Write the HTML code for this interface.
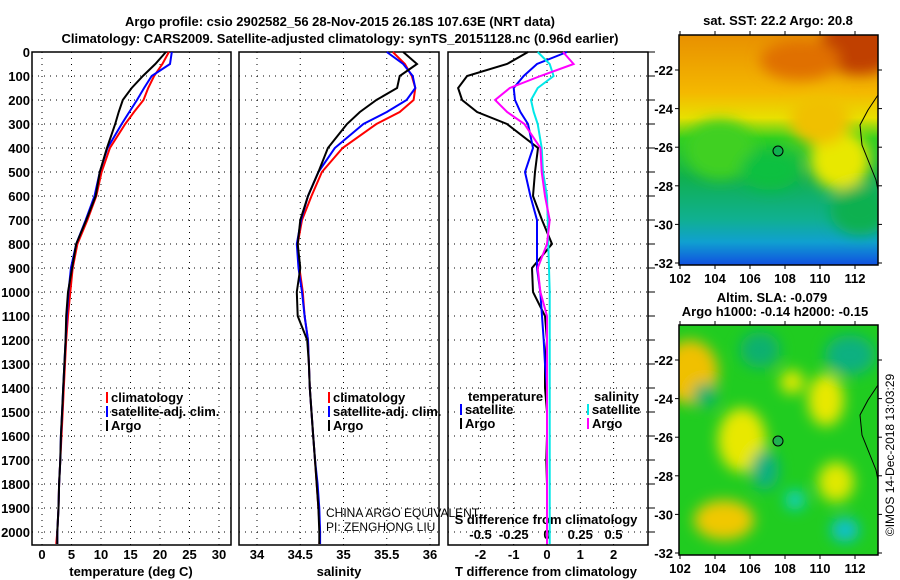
<!DOCTYPE html>
<html><head><meta charset="utf-8"><style>
body{margin:0;background:#fff;}
svg{display:block;font-family:"Liberation Sans",sans-serif;}
.b{font-weight:bold;font-size:13px;}
</style></head><body>
<svg id="c" width="900" height="580" viewBox="0 0 900 580">
<defs>
<linearGradient id="sst" x1="0" y1="0" x2="0" y2="1">
<stop offset="0" stop-color="#e89000"/><stop offset="0.25" stop-color="#f4b800"/><stop offset="0.36" stop-color="#e8e000"/>
<stop offset="0.45" stop-color="#30d020"/><stop offset="0.62" stop-color="#10b050"/><stop offset="0.8" stop-color="#10b090"/>
<stop offset="0.9" stop-color="#10a0d0"/><stop offset="1" stop-color="#1050e0"/></linearGradient>
<filter id="bl"><feGaussianBlur stdDeviation="7"/></filter>
<clipPath id="m1"><rect x="679" y="35" width="199" height="230"/></clipPath>
<clipPath id="m2"><rect x="679" y="325" width="199" height="230"/></clipPath>
</defs>
<text class="b" x="340" y="26" text-anchor="middle" font-size="14">Argo profile: csio 2902582_56 28-Nov-2015 26.18S 107.63E (NRT data)</text>
<text class="b" x="340" y="43" text-anchor="middle" font-size="14">Climatology: CARS2009. Satellite-adjusted climatology: synTS_20151128.nc (0.96d earlier)</text>
<g id="plots"></g>
<!-- maps -->
<g>
<text class="b" x="778" y="25" text-anchor="middle">sat. SST: 22.2 Argo: 20.8</text>
<g clip-path="url(#m1)">
<rect x="679" y="35" width="199" height="230" fill="url(#sst)"/>
<g filter="url(#bl)">
<ellipse cx="860" cy="45" rx="40" ry="30" fill="#c04000"/>
<ellipse cx="800" cy="60" rx="40" ry="20" fill="#e07000"/>
<ellipse cx="840" cy="160" rx="30" ry="30" fill="#e8e800"/>
<ellipse cx="820" cy="120" rx="30" ry="25" fill="#f0c000"/>
<ellipse cx="720" cy="150" rx="35" ry="30" fill="#40d020"/>
<ellipse cx="770" cy="170" rx="30" ry="20" fill="#10c040"/>
<ellipse cx="860" cy="210" rx="30" ry="25" fill="#10b050"/>
</g></g>
<path d="M878,95 L868,110 L860,125 L862,145 L870,165 L876,180 L878,190" fill="none" stroke="#000" stroke-width="1"/>
<circle cx="778" cy="151" r="5" fill="#10b050" stroke="#000"/>
<rect x="679" y="35" width="199" height="230" fill="none" stroke="#000" stroke-width="1.5"/>
</g>
<g>
<text class="b" x="772" y="302" text-anchor="middle">Altim. SLA: -0.079</text>
<text class="b" x="775" y="316" text-anchor="middle">Argo h1000: -0.14 h2000: -0.15</text>
<g clip-path="url(#m2)">
<rect x="679" y="325" width="199" height="230" fill="#20cc20"/>
<g filter="url(#bl)">
<ellipse cx="690" cy="372" rx="28" ry="32" fill="#f0c000"/>
<ellipse cx="742" cy="440" rx="24" ry="32" fill="#e8e800"/>
<ellipse cx="724" cy="520" rx="30" ry="20" fill="#f0c800"/>
<ellipse cx="826" cy="400" rx="18" ry="26" fill="#e8e800"/>
<ellipse cx="836" cy="482" rx="18" ry="20" fill="#e0e800"/>
<ellipse cx="792" cy="382" rx="12" ry="12" fill="#e0e800"/>
<ellipse cx="850" cy="355" rx="25" ry="20" fill="#10b080"/>
<ellipse cx="760" cy="350" rx="20" ry="18" fill="#10b070"/>
<ellipse cx="765" cy="470" rx="14" ry="20" fill="#10b080"/>
<ellipse cx="795" cy="500" rx="10" ry="10" fill="#10d0c0"/>
<ellipse cx="845" cy="530" rx="14" ry="12" fill="#10c0d0"/>
<ellipse cx="705" cy="395" rx="12" ry="12" fill="#10b070"/>
</g></g>
<path d="M878,385 L868,400 L860,415 L862,435 L870,455 L876,470 L878,480" fill="none" stroke="#000" stroke-width="1"/>
<circle cx="778" cy="441" r="5" fill="#20b050" stroke="#000"/>
<rect x="679" y="325" width="199" height="230" fill="none" stroke="#000" stroke-width="1.5"/>
</g>
<g id="maxes"></g>
<text font-size="12" transform="translate(894,455) rotate(-90)" text-anchor="middle">©IMOS 14-Dec-2018 13:03:29</text>
</svg>
<script>
const depths=[0,50,100,150,200,250,300,400,500,600,700,800,900,1000,1100,1200,1300,1400,1500,1600,1700,1800,1900,2000,2050];
const tempArgo=[21.0,19.2,17.1,15.2,13.7,13.0,12.4,11.0,9.8,9.1,7.5,5.8,5.1,4.4,4.1,4.0,3.8,3.6,3.4,3.2,3.1,2.9,2.8,2.6,2.6];
const tempClim=[21.5,20.4,19.0,18.0,17.2,15.6,14.1,11.5,10.1,9.2,7.7,6.0,5.2,4.8,4.4,4.1,3.9,3.7,3.5,3.3,3.1,2.9,2.8,2.6,2.4];
const tempSat=[22.0,21.7,18.6,17.3,16.1,14.8,13.5,11.1,9.8,8.9,7.4,5.8,4.9,4.5,4.2,4.0,3.8,3.6,3.4,3.2,3.1,2.9,2.8,2.6,2.6];
const salArgo=[35.69,35.85,35.65,35.62,35.38,35.19,35.04,34.82,34.71,34.59,34.50,34.47,34.50,34.46,34.47,34.58,34.60,34.61,34.63,34.65,34.67,34.69,34.71,34.72,34.72];
const salClim=[35.57,35.71,35.79,35.83,35.81,35.65,35.38,34.99,34.75,34.63,34.52,34.47,34.49,34.53,34.55,34.59,34.60,34.61,34.63,34.65,34.67,34.69,34.71,34.73,34.72];
const salSat=[35.50,35.69,35.80,35.83,35.73,35.50,35.23,34.90,34.71,34.59,34.51,34.46,34.48,34.52,34.55,34.59,34.60,34.61,34.63,34.65,34.67,34.70,34.72,34.73,34.73];
const dTArgo=[-0.57,-1.2,-2.4,-2.67,-2.55,-2.1,-1.2,-0.27,-0.36,-0.42,-0.15,0.15,-0.45,-0.42,-0.06,0,-0.06,-0.06,0,0,-0.02,0,0,0,0];
const dTSat=[0.6,-0.3,-0.7,-1.0,-0.96,-0.8,-0.57,-0.42,-0.66,-0.5,-0.3,-0.3,-0.3,-0.2,-0.15,-0.1,-0.06,0,0,0,0,0,0,0,0];
const dSArgo=[0.12,0.2,-0.05,-0.28,-0.39,-0.3,-0.17,-0.05,-0.04,-0.015,0.02,0,-0.07,-0.05,0,0,0,0,0,0,0,0,0,0,0];
const dSSat=[-0.07,0.02,0.05,-0.07,-0.12,-0.1,-0.07,-0.04,-0.03,0,0.005,0.01,0.015,0.02,0.02,0.02,0.02,0.02,0.02,0.02,0.02,0.02,0.02,0.02,0.02];
const depthTicks=[0,100,200,300,400,500,600,700,800,900,1000,1100,1200,1300,1400,1500,1600,1700,1800,1900,2000];
const tempTicks=[0,5,10,15,20,25,30];
const salTicks=[34,34.5,35,35.5,36];
const salTickLabels=["34","34.5","35","35.5","36"];
const dTTicks=[-2,-1,0,1,2];
const dSTicks=[-0.5,-0.25,0,0.25,0.5];
const dSTickLabels=["-0.5","-0.25","0","0.25","0.5"];
const lonTicks=[102,104,106,108,110,112];
const latTicks=[-22,-24,-26,-28,-30,-32];

const NS='http://www.w3.org/2000/svg';
const G=document.getElementById('plots');
const top0=52, bot=545;
const yD=d=>top0+d*0.24;
function mk(tag,at,parent){const e=document.createElementNS(NS,tag);for(const k in at)e.setAttribute(k,at[k]);(parent||G).appendChild(e);return e;}
function txt(s,x,y,anchor,cls,parent){const t=mk('text',{x:x,y:y,'text-anchor':anchor||'middle'},parent);if(cls)t.setAttribute('class',cls);t.textContent=s;return t;}
const panels=[
 {x0:32,x1:231,sx:v=>42+v*5.9,name:'temperature-panel'},
 {x0:239,x1:439,sx:v=>257+(v-34)*86.5,name:'salinity-panel'},
 {x0:448,x1:648,sx:v=>547+v*33.3,name:'difference-panel'}];
const sxS=v=>547+v*133;
panels.forEach((p,pi)=>{
 const g=mk('g',{});
 
 
 const ticks=pi==0?tempTicks:pi==1?salTicks:dTTicks;
 depthTicks.forEach(d=>{const l=mk('line',{x1:p.x0,x2:p.x1,y1:yD(d),y2:yD(d),stroke:'#000','stroke-width':1,'stroke-dasharray':'1,5'},g);
  
  mk('line',{x1:p.x1,x2:p.x1+(pi==2?7:0),y1:yD(d),y2:yD(d),stroke:'#000'},g);});
 ticks.forEach(v=>{const l=mk('line',{x1:p.sx(v),x2:p.sx(v),y1:top0,y2:bot,stroke:'#000','stroke-width':1,'stroke-dasharray':'1,5'},g);
  });
 ticks.forEach((v,i)=>{const t=txt(pi==1?salTickLabels[i]:String(v),p.sx(v),559,'middle','b',g);
  });
 const r=mk('rect',{x:p.x0,y:top0,width:p.x1-p.x0,height:bot-top0,fill:'none',stroke:'#000','stroke-width':1.5},g);
});
depthTicks.forEach(d=>{const t=txt(String(d),30,yD(d)+5,'end','b');
 });
let t;
t=txt('temperature (deg C)',131,576,'middle','b');
t=txt('salinity',339,576,'middle','b');
t=txt('T difference from climatology',546,576,'middle','b');
t=txt('S difference from climatology',546,524,'middle','b');
dSTicks.forEach((v,i)=>{const t=txt(dSTickLabels[i],sxS(v),539,'middle','b');});
function series(vals,sx,color,name,w){
 const pts=vals.map((v,i)=>sx(v).toFixed(1)+','+yD(depths[i]).toFixed(1)).join(' ');
 const pl=mk('polyline',{points:pts,fill:'none',stroke:color,'stroke-width':w||2});
 
 
}
series(tempClim,panels[0].sx,'#f00','temp-climatology-line');
series(tempSat,panels[0].sx,'#00f','temp-satellite-line');
series(tempArgo,panels[0].sx,'#000','temp-argo-line');
series(salClim,panels[1].sx,'#f00','sal-climatology-line');
series(salSat,panels[1].sx,'#00f','sal-satellite-line');
series(salArgo,panels[1].sx,'#000','sal-argo-line');
series(dTArgo,panels[2].sx,'#000','t-diff-argo-line');
series(dTSat,panels[2].sx,'#00f','t-diff-satellite-line');
series(dSSat,sxS,'#00e8e8','s-diff-satellite-line');
series(dSArgo,sxS,'#f0f','s-diff-argo-line');
function leg(x,y,color,label,name){
 const g=mk('g',{});
 
 
 mk('rect',{x:x,y:y-10,width:2,height:11,fill:color},g);
 txt(label,x+5,y,'start','b',g);
}
leg(106,402,'#f00','climatology','legend-climatology');
leg(106,416,'#00f','satellite-adj. clim.','legend-satellite-adj');
leg(106,430,'#000','Argo','legend-argo');
leg(328,402,'#f00','climatology','legend-climatology-sal');
leg(328,416,'#00f','satellite-adj. clim.','legend-satellite-adj-sal');
leg(328,430,'#000','Argo','legend-argo-sal');
t=txt('temperature',468,401,'start','b');
t=txt('salinity',594,401,'start','b');
leg(460,414,'#00f','satellite','legend-t-satellite');
leg(460,428,'#000','Argo','legend-t-argo');
leg(587,414,'#00e8e8','satellite','legend-s-satellite');
leg(587,428,'#f0f','Argo','legend-s-argo');
t=txt('CHINA ARGO EQUIVALENT',326,517,'start');t.setAttribute('font-size','12');
t=txt('PI: ZENGHONG LIU',326,531,'start');t.setAttribute('font-size','12');
// map axes
const MA=document.getElementById('maxes');
const lx=v=>680+(v-102)*17.5, ly=v=>70+(-22-v)*19.3;
[0,290].forEach((off,mi)=>{
 lonTicks.forEach(v=>{mk('line',{x1:lx(v),x2:lx(v),y1:off+265,y2:off+269,stroke:'#000'},MA);mk('line',{x1:lx(v),x2:lx(v),y1:off+31,y2:off+35,stroke:'#000'},MA);
  const t=txt(String(v),lx(v),off+283,'middle','b',MA);});
 latTicks.forEach(v=>{mk('line',{x1:675,x2:679,y1:off+ly(v),y2:off+ly(v),stroke:'#000'},MA);mk('line',{x1:878,x2:882,y1:off+ly(v),y2:off+ly(v),stroke:'#000'},MA);
  const t=txt(String(v),673,off+ly(v)+5,'end','b',MA);});
});
</script>
</body></html>
